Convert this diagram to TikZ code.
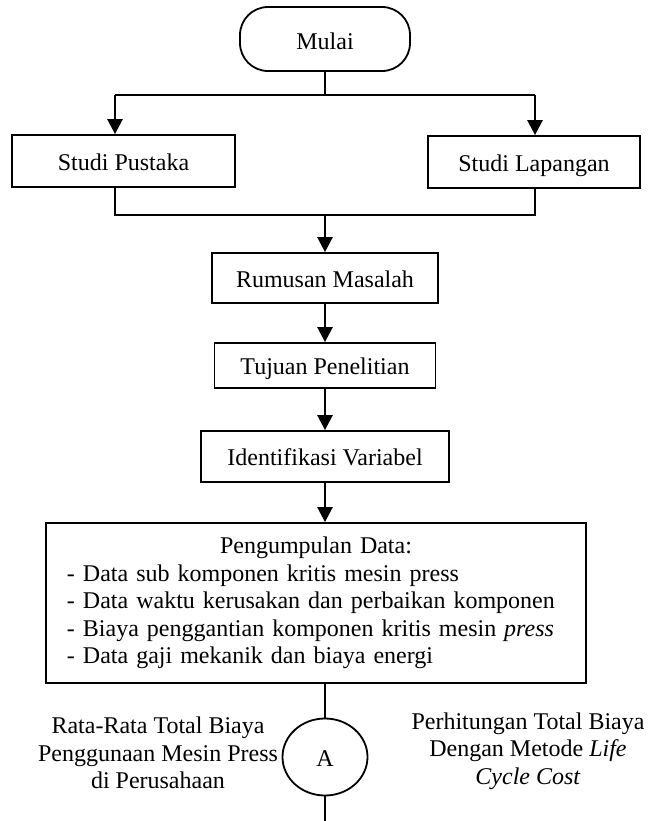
\documentclass[tikz,border=0pt]{standalone}
\usepackage{fontspec}
\setmainfont{Liberation Serif}
\usetikzlibrary{arrows.meta,shapes.geometric}
\begin{document}
\begin{tikzpicture}[x=0.5pt,y=-0.5pt,
  txt/.style={font=\fontsize{12}{13.8}\selectfont},
  box/.style={draw,line width=0.9pt,inner sep=0pt,txt},
  line1/.style={text height=11pt,text depth=2pt},
  conn/.style={line width=1.3pt},
  arr/.style={conn,-{Triangle[length=7.5pt,width=7.5pt]}},
  lbl/.style={align=center,inner sep=0pt,txt}]
\useasboundingbox (0,0) rectangle (648,821);
\node[box,line1,rounded corners=14pt,minimum width=85pt,minimum height=32pt,text height=12pt] (mulai) at (325,39) {Mulai};
\node[box,line1,minimum width=111.5pt,minimum height=26pt] (pustaka) at (123.5,161) {Studi Pustaka};
\node[box,line1,minimum width=106pt,minimum height=26pt] (lapangan) at (534,162) {Studi Lapangan};
\node[box,line1,minimum width=113pt,minimum height=25pt] (rumusan) at (325,278) {Rumusan Masalah};
\node[box,line1,minimum width=110.5pt,minimum height=22.5pt] (tujuan) at (325,365.5) {Tujuan Penelitian};
\node[box,line1,minimum width=124pt,minimum height=25.5pt] (identifikasi) at (325,456.5) {Identifikasi Variabel};
\node[box,minimum width=270pt,minimum height=80pt,text width=249pt,inner xsep=10.5pt,align=left] (data) at (316,603)
  {\makebox[249pt]{Pengumpulan Data:}\\
   - Data sub komponen kritis mesin press\\
   - Data waktu kerusakan dan perbaikan komponen\\
   - Biaya penggantian komponen kritis mesin \textit{press}\\
   - Data gaji mekanik dan biaya energi};
\node[box,line1,ellipse,minimum width=42.5pt,minimum height=38.5pt] (A) at (325,757) {A};
\node[lbl] (kiri) at (158,753) {Rata-Rata Total Biaya\\Penggunaan Mesin Press\\di Perusahaan};
\node[lbl] (kanan) at (528,751) {Perhitungan Total Biaya\\Dengan Metode \textit{Life}\\\textit{Cycle Cost}};
\coordinate (sp) at (115,95);
\coordinate (sl) at (535,95);
\coordinate (jp) at (115,215);
\coordinate (jl) at (535,215);
\coordinate (end) at (325,821);
\draw[conn] (mulai.south) -- (mulai.south |- sp);
\draw[conn] (sp) -- (sl);
\draw[arr] (sp) -- (sp |- pustaka.north);
\draw[arr] (sl) -- (sl |- lapangan.north);
\draw[conn] (jp |- pustaka.south) -- (jp) -- (jl) -- (jl |- lapangan.south);
\draw[arr] (rumusan.north |- jp) -- (rumusan.north);
\draw[arr] (rumusan) -- (tujuan);
\draw[arr] (tujuan) -- (identifikasi);
\draw[arr] (identifikasi.south) -- (identifikasi.south |- data.north);
\draw[conn] (A.north |- data.south) -- (A);
\draw[conn] (A) -- (end);
\end{tikzpicture}
\end{document}
